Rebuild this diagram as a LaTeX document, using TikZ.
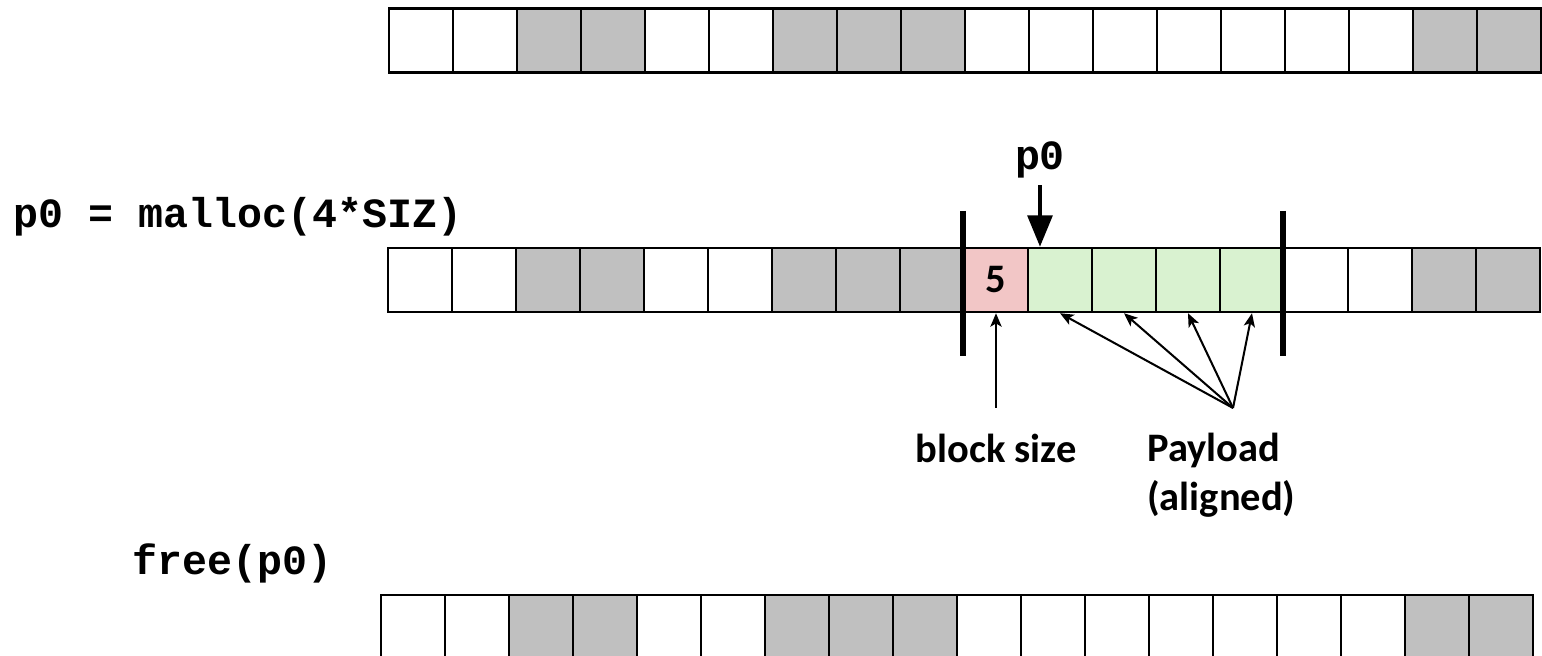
\documentclass[tikz,border=0pt]{standalone}
\usepackage{fontspec}
\setmainfont{Carlito}
\setmonofont{Liberation Mono}
\usetikzlibrary{arrows.meta,positioning}
\definecolor{used}{HTML}{C0C0C0}
\definecolor{hdr}{HTML}{F2C6C6}
\definecolor{pay}{HTML}{D9F2D0}

\begin{document}
\begin{tikzpicture}[
    cell/.style={draw, line width=1.1pt, minimum size=1cm, inner sep=0pt},
    code/.style={inner sep=0pt, font=\fontsize{18.5}{22}\selectfont\ttfamily\bfseries},
    lbl/.style={inner sep=0pt, align=left, font=\fontsize{18}{21.6}\selectfont\bfseries},
    bar/.style={line width=2.7pt},
    tip/.style={line width=0.9pt, -{Stealth[length=6pt,width=5pt,inset=1.5pt]}}
  ]
  \useasboundingbox (0,0) rectangle (24.094,-10.25);
  % heap before
  \foreach \c [count=\i] in {white,white,used,used,white,white,used,used,used,white,white,white,white,white,white,white,used,used}
    \node[cell, fill=\c] (top-\i) at (5.578+\i,-0.633) {};
  % after malloc
  \node[code, anchor=base west] (malloc) at (0.2,-3.547) {p0 = malloc(4*SIZ)};
  \foreach \c [count=\i] in {white,white,used,used,white,white,used,used,used,hdr,pay,pay,pay,pay,white,white,used,used}
    \node[cell, fill=\c] (mid-\i) at (5.5625+\i,-4.375) {};
  \node[lbl] (hsize) at (mid-10) {5};
  \draw[bar] ([yshift=0.5625cm]mid-10.north west) -- ([yshift=-0.672cm]mid-10.south west);
  \draw[bar] ([yshift=0.5625cm]mid-15.north west) -- ([yshift=-0.672cm]mid-15.south west);
  % pointer
  \node[code, anchor=base] (ptr) at (16.25,-2.656) {p0};
  \draw[line width=1.8pt, -{Triangle[width=11pt,length=14pt]}] ([yshift=-0.1cm]ptr.south) -- (ptr.south |- mid-11.north);
  % labels below
  \node[lbl, anchor=base] (bsize) at (15.5625,-7.23) {block size};
  \coordinate (bsfoot) at (15.5625,-6.375);
  \draw[tip] (bsfoot) -- (mid-10.south);
  \node[lbl, anchor=base west] (payload) at (17.92,-7.97) {Payload\\(aligned)};
  \coordinate (fan) at (19.266,-6.375);
  \foreach \i in {11,...,14}
    \draw[tip] (fan) -- (mid-\i.south);
  % after free
  \node[code, anchor=base west] (free) at (2.06,-8.98) {free(p0)};
  \foreach \c [count=\i] in {white,white,used,used,white,white,used,used,used,white,white,white,white,white,white,white,used,used}
    \node[cell, fill=\c] (bot-\i) at (5.453+\i,-9.797) {};
\end{tikzpicture}
\end{document}
